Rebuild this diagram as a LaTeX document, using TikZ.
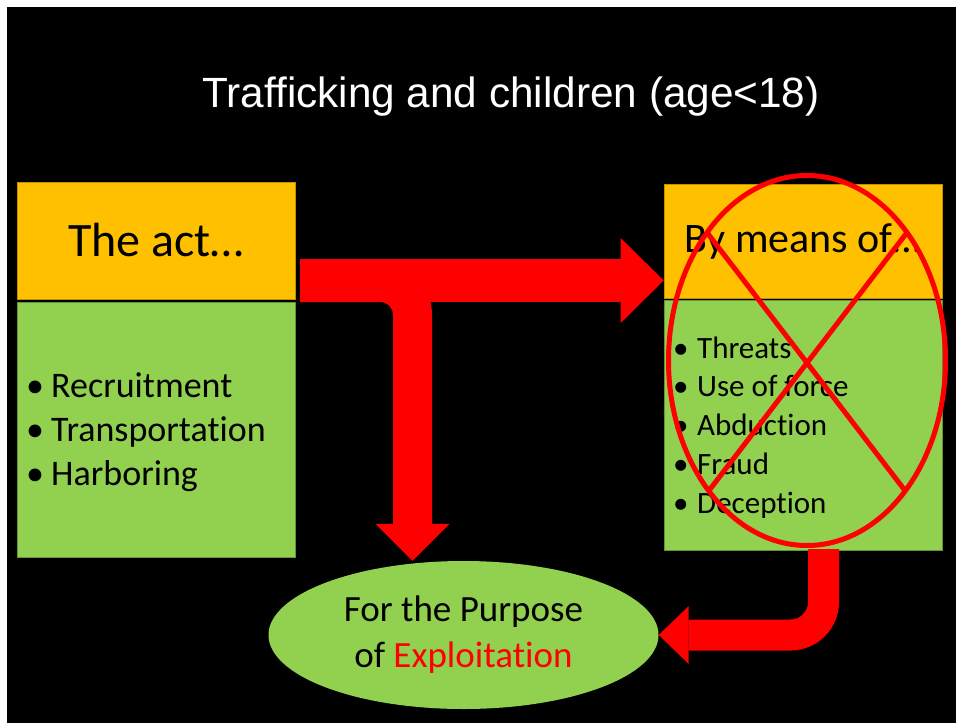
\documentclass[tikz,border=0pt]{standalone}
\usepackage{fontspec}
\setmainfont{Carlito}[Ligatures={NoCommon,NoContextual,NoRequired}]
\newfontfamily\titlefont{Liberation Sans}
\usepackage{xcolor}
\usepackage{tikz}
\usetikzlibrary{shapes.geometric, arrows.meta, positioning, calc}
\definecolor{headorange}{HTML}{FFC000}
\definecolor{bodygreen}{HTML}{92D050}
\definecolor{arrowred}{HTML}{FF0000}
\tikzstyle{titletext} = [text=white, font=\titlefont\fontsize{42.3}{50}\selectfont, inner sep=0pt, anchor=base]
\tikzstyle{headbox} = [rectangle, minimum width=278pt, text centered, draw=headorange!75!black, line width=0.6pt, fill=headorange, inner sep=0pt]
\tikzstyle{bodybox} = [rectangle, minimum width=278pt, draw=bodygreen!70!black, line width=0.6pt, fill=bodygreen, inner sep=0pt]
\tikzstyle{listitem} = [anchor=base west, inner sep=0pt, text=black]
\tikzstyle{purposeoval} = [ellipse, minimum width=390pt, minimum height=148pt, fill=bodygreen, inner sep=0pt, align=center, font=\fontsize{37}{46}\selectfont]
\tikzstyle{bigarrow} = [draw=arrowred, line cap=butt]
\tikzstyle{crossring} = [ellipse, draw=arrowred, line width=5pt, minimum width=277pt, minimum height=370pt, inner sep=0pt, outer sep=0pt]
\tikzstyle{crossline} = [draw=arrowred, line width=5pt]

\begin{document}
\begin{tikzpicture}[x=1pt, y=-1pt]
\useasboundingbox (0,0) rectangle (956,723);
\fill[white] (0,0) rectangle (956,723);
\fill[black] (7,7) rectangle (956,723);

\node (title) [titletext] at (511,107) {Trafficking and children (age<18)};

% left column: the act
\node (acthead) [headbox, minimum height=117pt, font=\fontsize{48}{56}\selectfont] at (156,240.5) {The act…};
\node (actbody) [bodybox, minimum height=255pt, below=3pt of acthead] {};
\foreach \actword [count=\i] in {Recruitment, Transportation, Harboring}
  \node (act\i) [listitem, font=\fontsize{36}{44}\selectfont] at (26,{397+44*(\i-1)}) {\makebox[25pt][l]{•}\actword};

% right column: the means
\node (meanshead) [headbox, minimum height=114pt, font=\fontsize{42}{50}\selectfont] at (803,241) {By means of…};
\node (meansbody) [bodybox, minimum height=250pt, below=2pt of meanshead] {};
\foreach \meansword [count=\i] in {Threats, Use of force, Abduction, Fraud, Deception}
  \node (means\i) [listitem, font=\fontsize{31}{39}\selectfont] at (673,{358+38.75*(\i-1)}) {\makebox[24pt][l]{•}\meansword};

% purpose
\node (purpose) [purposeoval] at (463.5,635) {For the Purpose\\of \textcolor{arrowred}{Exploitation}};

% arrows
\coordinate (tstart) at (300,282.5);
\coordinate (tbend) at (412.5,282.5);
\coordinate (hstart) at (300,280.5);
\coordinate (bstart) at (823.5,549);
\draw [bigarrow, line width=39pt, rounded corners=32.5pt, -{Triangle[length=37pt, width=74pt, line width=0pt]}] (tstart) -- (tbend) -- (tbend |- purpose.north);
\draw [bigarrow, line width=43pt, -{Triangle[length=43pt, width=85pt, line width=0pt]}] (hstart) -- (hstart -| meanshead.west);
\draw [bigarrow, line width=31pt, rounded corners=33pt, -{Triangle[length=30pt, width=58pt, line width=0pt]}] (bstart) -- (bstart |- purpose.east) -- (purpose.east);

% crossed out
\node (nomeans) [crossring] at (807,360.5) {};
\draw [crossline] (nomeans.128) -- (nomeans.-53);
\draw [crossline] (nomeans.52) -- (nomeans.233);
\end{tikzpicture}
\end{document}
